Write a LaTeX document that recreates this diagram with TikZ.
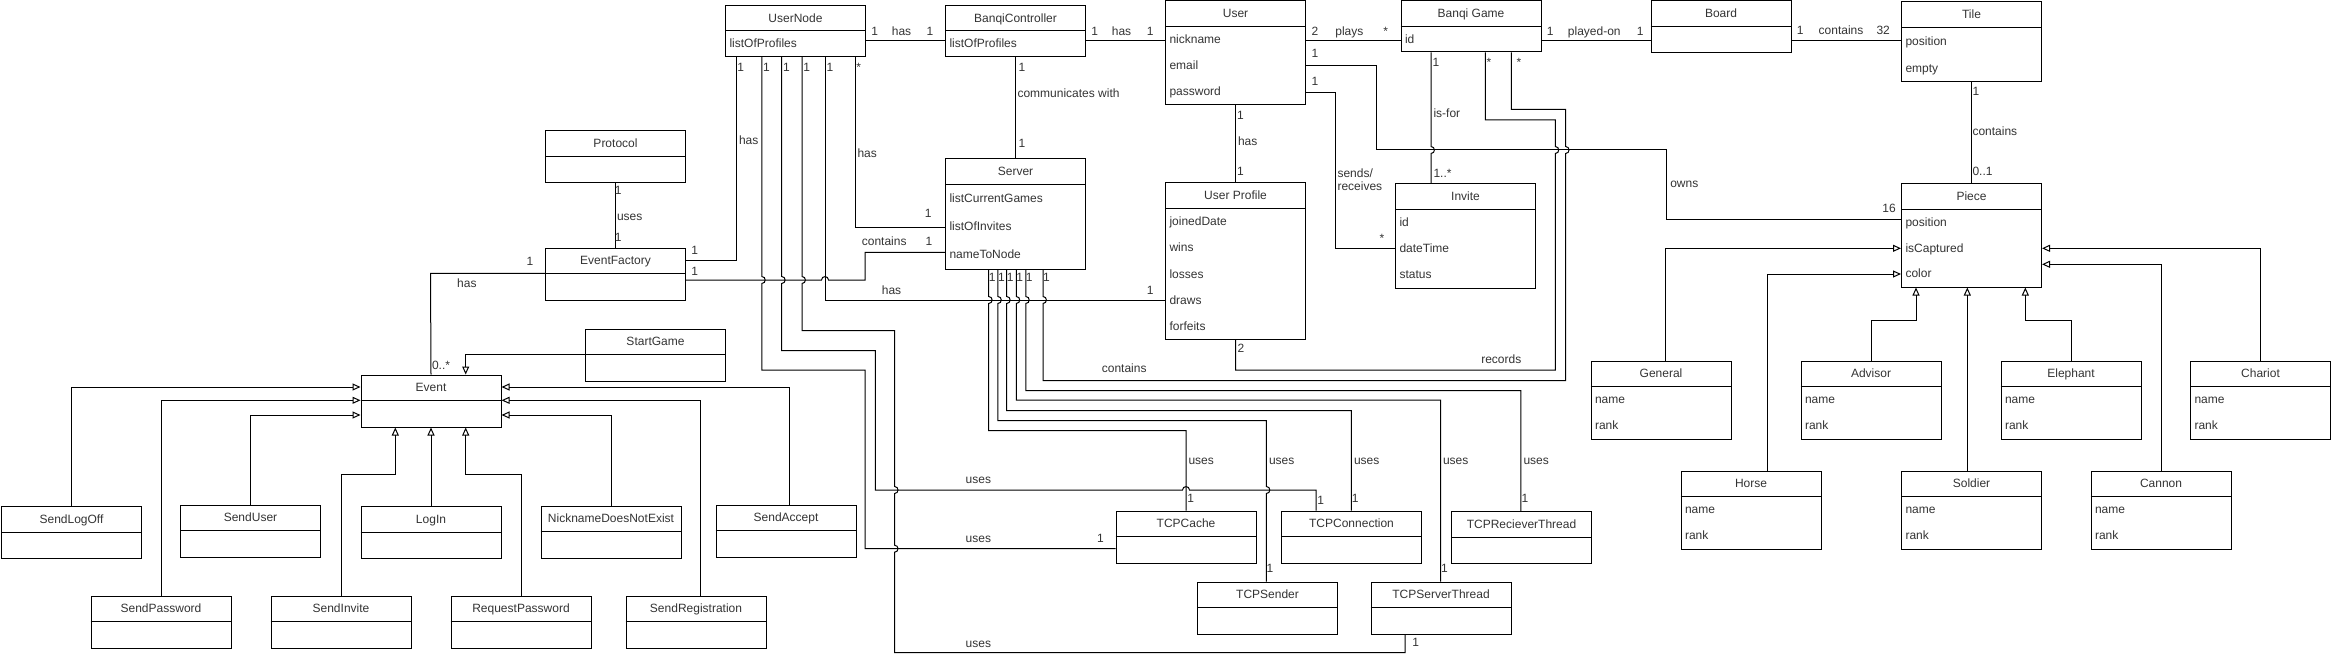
\documentclass[tikz,border=0pt]{standalone}
\usepackage{fontspec}
\setmainfont{Liberation Sans}
\usetikzlibrary{arrows.meta,calc}

% class box with attributes: name, left, top, height, title, attributes
\newcommand\umlclass[6]{%
  \node[classbox, minimum height=#4, anchor=north west] (#1) at (#2,#3) {};
  \draw ($(#1.north west)+(0,26)$) -- ($(#1.north east)+(0,26)$);
  \node[lbl] at ($(#1.north)+(0,13)$) {#5};
  \foreach \a [count=\i] in {#6} {\xdef\nattr{\i}}
  \foreach \a [count=\i] in {#6} {
    \node[attr] at ($(#1.north west)+(4,{26+(\i-0.5)*(#4-26)/\nattr})$) {\a};
  }
}
% class box without attributes
\newcommand\umlempty[4]{%
  \node[classbox, minimum height=52, anchor=north west] (#1) at (#2,#3) {};
  \draw ($(#1.north west)+(0,26)$) -- ($(#1.north east)+(0,26)$);
  \node[lbl] at ($(#1.north)+(0,13)$) {#4};
}
% line jumps
\newcommand\vhop[2]{-- (#1,#2-3.5) .. controls (#1+4.5,#2-3.5) and (#1+4.5,#2+3.5) .. (#1,#2+3.5)}
\newcommand\vhopu[2]{-- (#1,#2+3.5) .. controls (#1+4.5,#2+3.5) and (#1+4.5,#2-3.5) .. (#1,#2-3.5)}
\newcommand\hhop[2]{-- (#1-3.5,#2) .. controls (#1-3.5,#2-4.5) and (#1+3.5,#2-4.5) .. (#1+3.5,#2)}

\begin{document}
\begin{tikzpicture}[x=1pt, y=-1pt, line width=1pt,
  classbox/.style={draw, minimum width=140, inner sep=0pt},
  lbl/.style={font=\fontsize{12}{14}\selectfont, text=black!80, inner sep=0pt, text height=8.6pt, text depth=0pt},
  attr/.style={lbl, anchor=west},
  gen/.style={-{Triangle[open, length=8pt, width=7pt]}}]
\useasboundingbox (0,0) rectangle (2331,655);

\umlclass{UserNode}{725}{5}{51}{UserNode}{listOfProfiles}
\umlclass{BanqiController}{945}{5}{51}{BanqiController}{listOfProfiles}
\umlclass{User}{1165}{0.5}{104}{User}{nickname,email,password}
\umlclass{BanqiGame}{1400.5}{0.5}{51}{Banqi Game}{id}
\umlempty{Board}{1650.5}{0.5}{Board}
\umlclass{Tile}{1901}{1.5}{80}{Tile}{position,empty}
\umlclass{Piece}{1901}{183.5}{103}{Piece}{position,isCaptured,color}
\umlempty{Protocol}{545}{130.5}{Protocol}
\umlclass{Server}{945}{158.5}{110}{Server}{listCurrentGames,listOfInvites,nameToNode}
\umlclass{UserProfile}{1165}{182.5}{156.5}{User Profile}{joinedDate,wins,losses,draws,forfeits}
\umlclass{Invite}{1395}{183.5}{104}{Invite}{id,dateTime,status}
\umlempty{EventFactory}{545}{247.5}{EventFactory}
\umlempty{StartGame}{585}{328.5}{StartGame}
\umlempty{Event}{360.5}{374.5}{Event}
\umlempty{SendLogOff}{1}{506}{SendLogOff}
\umlempty{SendUser}{180}{504.5}{SendUser}
\umlempty{LogIn}{360.5}{506}{LogIn}
\umlempty{NicknameDoesNotExist}{540.5}{505.5}{NicknameDoesNotExist}
\umlempty{SendAccept}{715.5}{504.5}{SendAccept}
\umlempty{SendPassword}{90.5}{595.5}{SendPassword}
\umlempty{SendInvite}{270.5}{595.5}{SendInvite}
\umlempty{RequestPassword}{450.5}{595.5}{RequestPassword}
\umlempty{SendRegistration}{625.5}{595.5}{SendRegistration}
\umlempty{TCPCache}{1115.5}{510.5}{TCPCache}
\umlempty{TCPConnection}{1281}{510.5}{TCPConnection}
\umlempty{TCPRecieverThread}{1451}{511}{TCPRecieverThread}
\umlempty{TCPSender}{1197}{581.5}{TCPSender}
\umlempty{TCPServerThread}{1370.5}{581.5}{TCPServerThread}
\umlclass{General}{1590.5}{360.5}{78}{General}{name,rank}
\umlclass{Advisor}{1800.5}{360.5}{78}{Advisor}{name,rank}
\umlclass{Elephant}{2000.5}{360.5}{78}{Elephant}{name,rank}
\umlclass{Chariot}{2190}{360.5}{78}{Chariot}{name,rank}
\umlclass{Horse}{1680.5}{470.5}{78}{Horse}{name,rank}
\umlclass{Soldier}{1901}{470.5}{78}{Soldier}{name,rank}
\umlclass{Cannon}{2090.5}{470.5}{78}{Cannon}{name,rank}

% associations
\draw (UserNode.east |- 0,40.7) -- (BanqiController.west |- 0,40.7);
\draw (BanqiController.east |- 0,40.7) -- (User.west |- 0,40.7);
\draw (User.east |- 0,40.7) -- (BanqiGame.west |- 0,40.7);
\draw (BanqiGame.east |- 0,40.7) -- (Board.west |- 0,40.7);
\draw (Board.east |- 0,40.7) -- (Tile.west |- 0,40.7);
\draw (Tile.south) -- (Piece.north);
\draw (BanqiController.south) -- (Server.north);
\draw (User.south) -- (UserProfile.north);
\draw (User.east |- 0,65.7) -- (1376,65.7) -- (1376,150) -- (1666,150) -- (1666,220) -- (Piece.west |- 0,220);
\draw (User.east |- 0,92.3) -- (1335.3,92.3) -- (1335.3,248.3) -- (Invite.west |- 0,248.3);
\draw (1431,0 |- BanqiGame.south) \vhop{1431}{150} -- (1431,0 |- Invite.north);
\draw (1485.3,0 |- BanqiGame.south) -- (1485.3,120) -- (1555.3,120) \vhop{1555.3}{150} -- (1555.3,370) -- (UserProfile.south |- 0,370) -- (UserProfile.south);
\draw (1511.3,0 |- BanqiGame.south) -- (1511.3,109.3) -- (1565.6,109.3) \vhop{1565.6}{150} -- (1565.6,380.7) -- (1043,380.7) \vhopu{1043}{300} -- (1043,0 |- Server.south);

\draw (736.9,0 |- UserNode.south) -- (736.9,260) -- (EventFactory.east |- 0,260);
\draw (855.5,0 |- UserNode.south) -- (855.5,227.7) -- (Server.west |- 0,227.7);
\draw (EventFactory.east |- 0,280) \hhop{825}{280} -- (865,280) -- (865,252.3) -- (Server.west |- 0,252.3);
\draw (825,0 |- UserNode.south) -- (825,300) -- (UserProfile.west |- 0,300);
\draw (Protocol.south) -- (EventFactory.north);
\draw (EventFactory.west |- 0,273.3) -- (430.5,273.3) -- (Event.north);

% uses
\draw (761.8,0 |- UserNode.south) \vhop{761.8}{280} -- (761.8,370) -- (865,370) -- (865,548.7) -- (TCPCache.west |- 0,548.7);
\draw (781.7,0 |- UserNode.south) \vhop{781.7}{280} -- (781.7,350.7) -- (875.4,350.7) -- (875.4,490) \hhop{1186}{490} -- (1316,490) -- (1316,0 |- TCPConnection.north);
\draw (802,0 |- UserNode.south) \vhop{802}{280} -- (802,330.7) -- (894.6,330.7) \vhop{894.6}{490} \vhop{894.6}{548.7} -- (894.6,652.7) -- (1405,652.7) -- (1405,0 |- TCPServerThread.south);
\draw (1025.8,0 |- Server.south) \vhop{1025.8}{300} -- (1025.8,390.7) -- (1520.9,390.7) -- (1520.9,0 |- TCPRecieverThread.north);
\draw (1016.3,0 |- Server.south) \vhop{1016.3}{300} -- (1016.3,400) -- (1440.5,400) -- (1440.5,0 |- TCPServerThread.north);
\draw (1006.7,0 |- Server.south) \vhop{1006.7}{300} -- (1006.7,410.7) -- (1351.3,410.7) -- (1351.3,0 |- TCPConnection.north);
\draw (997.9,0 |- Server.south) \vhop{997.9}{300} -- (997.9,420.7) -- (1266.4,420.7) \vhop{1266.4}{490} -- (1266.4,0 |- TCPSender.north);
\draw (988.7,0 |- Server.south) \vhop{988.7}{300} -- (988.7,430.7) -- (1186,430.7) -- (1186,0 |- TCPCache.north);

% generalizations
\draw[gen] (StartGame.west |- 0,354.3) -- (465.7,354.3) -- (465.7,0 |- Event.north);
\draw[gen] (SendLogOff.north) -- (SendLogOff.north |- 0,387) -- (Event.west |- 0,387);
\draw[gen] (SendPassword.north) -- (SendPassword.north |- 0,400.3) -- (Event.west |- 0,400.3);
\draw[gen] (SendUser.north) -- (SendUser.north |- 0,415) -- (Event.west |- 0,415);
\draw[gen] (SendInvite.north) -- (SendInvite.north |- 0,474.3) -- (395.3,474.3) -- (395.3,0 |- Event.south);
\draw[gen] (LogIn.north) -- (Event.south);
\draw[gen] (RequestPassword.north) -- (RequestPassword.north |- 0,474.3) -- (465.7,474.3) -- (465.7,0 |- Event.south);
\draw[gen] (789.3,0 |- SendAccept.north) -- (789.3,387) -- (Event.east |- 0,387);
\draw[gen] (700.5,0 |- SendRegistration.north) -- (700.5,400.3) -- (Event.east |- 0,400.3);
\draw[gen] (NicknameDoesNotExist.north) -- (NicknameDoesNotExist.north |- 0,415) -- (Event.east |- 0,415);

\draw[gen] (1665.9,0 |- General.north) -- (1665.9,248.3) -- (Piece.west |- 0,248.3);
\draw[gen] (1767.5,0 |- Horse.north) -- (1767.5,274) -- (Piece.west |- 0,274);
\draw[gen] (Advisor.north) -- (Advisor.north |- 0,320) -- (1916,320) -- (1916,0 |- Piece.south);
\draw[gen] (1967.3,0 |- Soldier.north) -- (1967.3,0 |- Piece.south);
\draw[gen] (Elephant.north) -- (Elephant.north |- 0,320) -- (2025.3,320) -- (2025.3,0 |- Piece.south);
\draw[gen] (Chariot.north) -- (Chariot.north |- 0,248.3) -- (Piece.east |- 0,248.3);
\draw[gen] (Cannon.north) -- (Cannon.north |- 0,264.3) -- (Piece.east |- 0,264.3);

% labels
\node[lbl] at (874.7,31.7) {1};
\node[lbl] at (901.5,31.7) {has};
\node[lbl] at (930,31.7) {1};
\node[lbl] at (1094.7,31.7) {1};
\node[lbl] at (1121.5,31.7) {has};
\node[lbl] at (1150.2,31.7) {1};
\node[lbl] at (1315,31) {2};
\node[lbl] at (1349.4,31) {plays};
\node[lbl] at (1385.8,31) {*};
\node[lbl] at (1550.3,31) {1};
\node[lbl] at (1594.3,31) {played-on};
\node[lbl] at (1640.3,31) {1};
\node[lbl] at (1800.3,30.5) {1};
\node[lbl] at (1841,30.5) {contains};
\node[lbl] at (1883.2,30.5) {32};

\node[lbl] at (1022,67) {1};
\node[attr] at (1017,93.3) {communicates with};
\node[lbl] at (1022,143.3) {1};
\node[lbl] at (1240.4,115) {1};
\node[attr] at (1237.5,141.7) {has};
\node[lbl] at (1240.4,171.7) {1};
\node[lbl] at (1976,91) {1};
\node[attr] at (1972,131.7) {contains};
\node[attr] at (1972,171.7) {0..1};

\node[lbl] at (1315,53.3) {1};
\node[lbl] at (1684.3,183) {owns};
\node[lbl] at (1889,208.3) {16};
\node[lbl] at (1315,81.7) {1};
\node[attr] at (1337,173.3) {sends/};
\node[attr] at (1337,186.7) {receives};
\node[lbl] at (1382,238) {*};
\node[lbl] at (1436,62.3) {1};
\node[attr] at (1433,113.3) {is-for};
\node[attr] at (1433,173.3) {1..*};
\node[lbl] at (1489,62.3) {*};
\node[lbl] at (1241,347.7) {2};
\node[lbl] at (1501.3,359) {records};
\node[lbl] at (1519,62.3) {*};
\node[lbl] at (1124.2,368.3) {contains};

\node[lbl] at (740.7,67) {1};
\node[lbl] at (766.5,67) {1};
\node[lbl] at (786.5,67) {1};
\node[lbl] at (806.8,67) {1};
\node[lbl] at (830,67) {1};
\node[lbl] at (858.6,67) {*};
\node[attr] at (738.5,140) {has};
\node[attr] at (857,153.3) {has};
\node[lbl] at (694.8,250) {1};
\node[lbl] at (928.3,213.3) {1};
\node[lbl] at (694.8,270.7) {1};
\node[lbl] at (884.2,240.7) {contains};
\node[lbl] at (929,240.7) {1};
\node[lbl] at (891.5,290) {has};
\node[lbl] at (1150.2,290) {1};
\foreach \x in {988.7,997.9,1006.7,1016.3,1025.8,1043}
  \node[lbl] at (\x+3.5,276.7) {1};

\node[lbl] at (618.3,190.7) {1};
\node[attr] at (616.5,215.7) {uses};
\node[lbl] at (618.3,236.7) {1};
\node[lbl] at (530,260.7) {1};
\node[lbl] at (466.9,283.3) {has};
\node[attr] at (431.5,365) {0..*};

\node[lbl] at (978.4,479) {uses};
\node[lbl] at (1320.7,500) {1};
\node[lbl] at (978.4,537.7) {uses};
\node[lbl] at (1100.5,537.7) {1};
\node[lbl] at (978.4,642.7) {uses};
\node[lbl] at (1415.6,641.7) {1};
\node[attr] at (1188,460) {uses};
\node[lbl] at (1190.6,498.3) {1};
\node[attr] at (1268.5,460) {uses};
\node[lbl] at (1270,568.3) {1};
\node[attr] at (1353.5,460) {uses};
\node[lbl] at (1355.2,498.3) {1};
\node[attr] at (1442.5,460) {uses};
\node[lbl] at (1444.5,568.3) {1};
\node[attr] at (1523,460) {uses};
\node[lbl] at (1525,498.3) {1};
\end{tikzpicture}
\end{document}
